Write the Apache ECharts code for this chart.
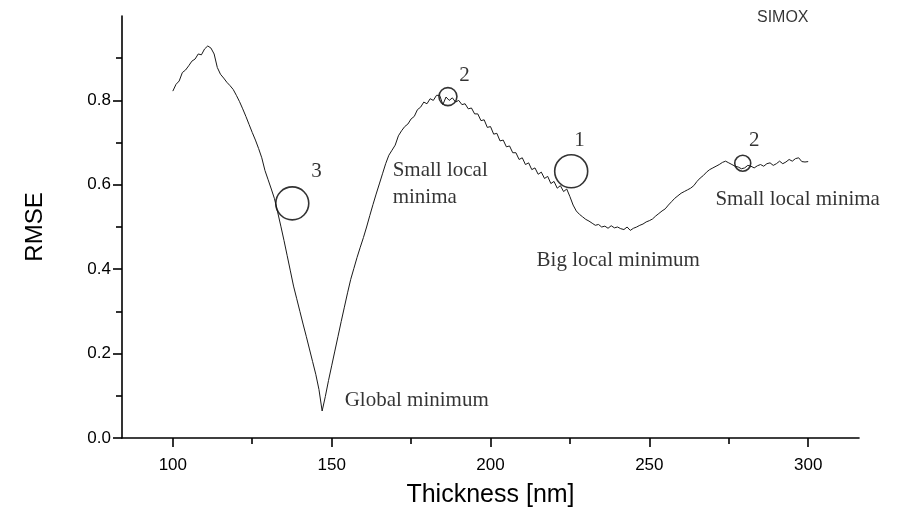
<!DOCTYPE html>
<html>
<head>
<meta charset="utf-8">
<script src="https://cdn.jsdelivr.net/npm/echarts@6/dist/echarts.min.js"></script>
<style>
  html, body { margin: 0; padding: 0; background: #fff; }
  #chart { width: 899px; height: 516px; }
</style>
</head>
<body>
<div id="chart"></div>
<script>
// Film thickness scan (nm) and the fit error at each thickness
const thickness = [];
for (let t = 100; t <= 300; t++) thickness.push(t);

const rmse = [
  0.822, 0.838, 0.846, 0.866, 0.872, 0.882, 0.893, 0.898, 0.910, 0.908,
  0.922, 0.929, 0.924, 0.910, 0.878, 0.862, 0.853, 0.843, 0.835, 0.826,
  0.812, 0.797, 0.780, 0.762, 0.743, 0.724, 0.706, 0.686, 0.664, 0.634,
  0.612, 0.590, 0.567, 0.535, 0.502, 0.468, 0.432, 0.396, 0.360, 0.330,
  0.300, 0.270, 0.241, 0.211, 0.181, 0.151, 0.115, 0.064, 0.098, 0.136,
  0.171, 0.206, 0.241, 0.276, 0.310, 0.344, 0.376, 0.402, 0.428, 0.452,
  0.475, 0.500, 0.527, 0.553, 0.578, 0.602, 0.626, 0.650, 0.670, 0.682,
  0.694, 0.716, 0.728, 0.738, 0.744, 0.756, 0.762, 0.778, 0.784, 0.796,
  0.792, 0.804, 0.800, 0.812, 0.812, 0.790, 0.808, 0.800, 0.806, 0.796,
  0.800, 0.790, 0.792, 0.780, 0.782, 0.768, 0.768, 0.752, 0.754, 0.736,
  0.738, 0.720, 0.722, 0.704, 0.706, 0.690, 0.692, 0.676, 0.676, 0.660,
  0.664, 0.648, 0.652, 0.636, 0.640, 0.625, 0.630, 0.615, 0.620, 0.603,
  0.608, 0.592, 0.598, 0.584, 0.590, 0.572, 0.552, 0.538, 0.530, 0.524,
  0.518, 0.514, 0.509, 0.504, 0.506, 0.500, 0.502, 0.497, 0.503, 0.498,
  0.500, 0.496, 0.494, 0.500, 0.492, 0.497, 0.500, 0.504, 0.507, 0.512,
  0.515, 0.519, 0.526, 0.532, 0.538, 0.543, 0.552, 0.560, 0.568, 0.574,
  0.580, 0.584, 0.588, 0.592, 0.598, 0.608, 0.616, 0.622, 0.630, 0.636,
  0.640, 0.644, 0.648, 0.653, 0.656, 0.652, 0.648, 0.644, 0.642, 0.638,
  0.640, 0.646, 0.644, 0.640, 0.645, 0.648, 0.644, 0.650, 0.652, 0.646,
  0.650, 0.656, 0.650, 0.654, 0.660, 0.656, 0.662, 0.664, 0.655, 0.654,
  0.655
];

// Highlighted minima: [thickness, rmse, ring diameter]
const minimaRings = [
  [137.6, 0.556, 33],
  [186.6, 0.809, 18],
  [225.4, 0.632, 33],
  [279.4, 0.651, 16]
];

// Annotation texts anchored in data space: [thickness, rmse, text]
const ringNumbers = [
  [145.2, 0.631, '3'],
  [191.8, 0.858, '2'],
  [228.0, 0.706, '1'],
  [283.0, 0.704, '2']
];
const notes = [
  [169.2, 0.602, 'Small local\nminima'],
  [154.1, 0.090, 'Global minimum'],
  [214.5, 0.420, 'Big local minimum'],
  [270.8, 0.566, 'Small local minima']
];
const sampleTag = [[292.0, 0.996, 'SIMOX']];

const xMajor = [100, 150, 200, 250, 300];
const xMinor = [125, 175, 225, 275];
const yMajor = [0.0, 0.2, 0.4, 0.6, 0.8];
const yMinor = [0.1, 0.3, 0.5, 0.7, 0.9];

const X_MIN = 84, X_MAX = 316, Y_MIN = 0, Y_MAX = 1.0;

const ink = '#000';
const sans = 'Liberation Sans, Arial, sans-serif';
const serif = 'Liberation Serif, Times New Roman, serif';

function xAxisOf(ticks, len, withLabels, name) {
  return {
    type: 'value', position: 'bottom', min: X_MIN, max: X_MAX,
    name: name || '', nameLocation: 'middle', nameGap: 45,
    nameTextStyle: { fontFamily: sans, fontSize: 25, color: ink },
    axisLine: { show: withLabels, onZero: false, lineStyle: { color: ink, width: 1.6 } },
    axisTick: { show: true, inside: false, length: len, customValues: ticks,
                lineStyle: { color: ink, width: 1.6 } },
    axisLabel: { show: withLabels, customValues: ticks, margin: 19,
                 fontFamily: sans, fontSize: 17, color: ink },
    splitLine: { show: false }
  };
}
function yAxisOf(ticks, len, withLabels, name) {
  return {
    type: 'value', position: 'left', min: Y_MIN, max: Y_MAX,
    name: name || '', nameLocation: 'middle', nameGap: 75, nameRotate: 90,
    nameTextStyle: { fontFamily: sans, fontSize: 24, color: ink },
    axisLine: { show: withLabels, onZero: false, lineStyle: { color: ink, width: 1.6 } },
    axisTick: { show: true, inside: false, length: len, customValues: ticks,
                lineStyle: { color: ink, width: 1.6 } },
    axisLabel: { show: withLabels, customValues: ticks, margin: 11,
                 fontFamily: sans, fontSize: 17, color: ink,
                 formatter: v => v.toFixed(1) },
    splitLine: { show: false }
  };
}

function textSeries(rows, font, size, align) {
  return {
    type: 'scatter', symbolSize: 0, silent: true, clip: false,
    data: rows,
    label: {
      show: true, position: 'inside', formatter: p => p.data[2],
      fontFamily: font, fontSize: size, color: ink,
      align: align, verticalAlign: 'middle', lineHeight: 27
    }
  };
}

const chart = echarts.init(document.getElementById('chart'), null, { renderer: 'canvas' });
chart.setOption({
  animation: false,
  backgroundColor: '#fff',
  grid: { left: 122, right: 40, top: 16, bottom: 78 },
  xAxis: [
    xAxisOf(xMajor, 9, true, 'Thickness [nm]'),
    xAxisOf(xMinor, 6, false)
  ],
  yAxis: [
    yAxisOf(yMajor, 9, true, 'RMSE'),
    yAxisOf(yMinor, 6, false)
  ],
  series: [
    {
      type: 'line', showSymbol: false, symbol: 'none',
      data: thickness.map((t, i) => [t, rmse[i]]),
      lineStyle: { color: '#1a1a1a', width: 1 }
    },
    {
      type: 'scatter', silent: true,
      data: minimaRings,
      symbol: 'circle',
      symbolSize: d => d[2],
      itemStyle: { color: 'rgba(0,0,0,0)', borderColor: ink, borderWidth: 1.6 }
    },
    textSeries(ringNumbers, serif, 21, 'center'),
    textSeries(notes, serif, 21, 'left'),
    textSeries(sampleTag, sans, 16, 'center')
  ]
});
</script>
</body>
</html>
